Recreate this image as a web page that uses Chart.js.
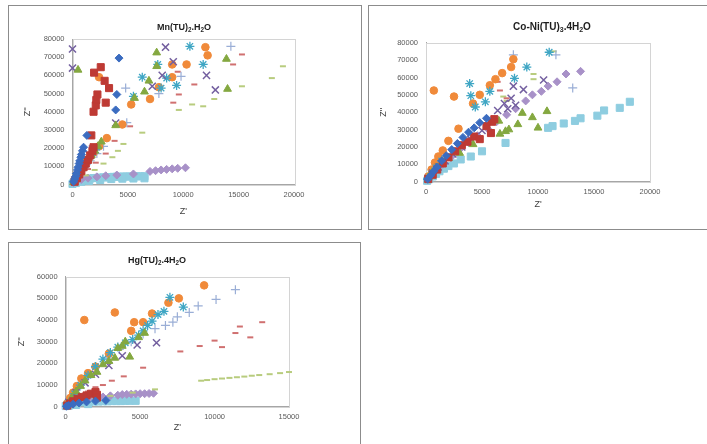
<!DOCTYPE html>
<html>
<head>
<meta charset="utf-8">
<script src="https://cdn.jsdelivr.net/npm/chart.js@4.4.0/dist/chart.umd.min.js"></script>
<style>
  body { margin: 0; background: #fff; width: 707px; height: 444px; overflow: hidden; position: relative; }
  .panel { position: absolute; box-sizing: border-box; border: 1px solid #8c8c8c; background: #fff; }
  .panel canvas { position: absolute; left: -1px; top: -1px; }
</style>
</head>
<body>
<div class="panel" style="left:8px;top:5px;width:354px;height:225px"><canvas id="mn" width="353" height="224"></canvas></div>
<div class="panel" style="left:368px;top:5px;width:350px;height:225px"><canvas id="co" width="339" height="224"></canvas></div>
<div class="panel" style="left:8px;top:242px;width:353px;height:215px"><canvas id="hg" width="352" height="202"></canvas></div>
<script>
// ---- Mn(TU)2.H2O : [Z', Z''] pairs per series ----
const mnDiamond = [[100,1500],[200,3000],[300,4500],[350,6000],[450,8000],[500,9500],[600,11500],[650,13000],[750,15000],[800,16500],[900,18500],[1000,20500],[1300,27000],[3900,41000],[4000,49500],[4200,69500]];
const mnSquare = [[200,1500],[400,3500],[600,5500],[800,7500],[1000,9500],[1200,11500],[1400,13500],[1600,16000],[1800,18500],[1900,20500],[1700,27000],[1900,40000],[2100,43500],[2150,46500],[2250,49500],[3000,45000],[1950,61500],[2550,64500],[2900,57000],[3300,53000]];
const mnTriangle = [[100,1200],[300,3000],[500,5000],[700,7000],[900,9000],[1100,11000],[1400,13500],[1700,16000],[2000,18500],[2300,21000],[2600,23500],[500,63000],[3900,32500],[5600,47500],[6500,51000],[6900,57000],[7600,65000],[7600,72500],[13900,69000],[14000,52500]];
const mnCross = [[0,74500],[0,64000],[200,2500],[400,5000],[600,7500],[900,10500],[1200,13500],[1500,16500],[1800,19500],[3900,33800],[7200,54000],[8100,60000],[9100,67500],[8400,75500],[12100,60000],[12900,52000]];
const mnStar = [[150,2000],[350,4000],[550,6000],[800,8500],[1100,11000],[1400,13500],[1700,16000],[2100,19000],[5500,48500],[6300,59000],[7700,66000],[8000,53000],[8500,58500],[9400,54500],[10600,76000],[11800,66000]];
const mnCircle = [[200,2500],[400,4500],[650,7000],[900,9500],[1200,12000],[1500,14500],[1900,17500],[2400,21000],[3100,25500],[2400,59000],[4500,33000],[5300,44000],[7000,47000],[7800,53500],[9000,59000],[9000,66000],[10300,66000],[12000,75500],[12200,71000]];
const mnPlus = [[300,2500],[700,6000],[1100,9500],[1600,13000],[2200,17000],[2800,21000],[4900,34000],[4800,53000],[7800,50000],[9800,59500],[14300,76000]];
const mnDashRed = [[300,2000],[800,5000],[1400,8500],[2100,12000],[3000,17000],[3800,24000],[5200,32000],[9100,45000],[9600,49500],[11000,55000],[9500,62000],[14500,66000],[15300,71500]];
const mnDashGreen = [[500,2000],[1200,5000],[2000,8000],[2800,11500],[3600,15000],[4100,18500],[4600,22300],[6300,28500],[9600,41000],[10800,44000],[11800,43000],[12800,47000],[15300,54000],[18000,58500],[19000,65000]];
const mnDiamondLight = [[100,1000],[400,2000],[800,2800],[1400,3500],[2200,4200],[3000,4800],[4000,5200],[5500,5800],[7000,7200],[7500,7600],[8000,8000],[8500,8300],[9000,8600],[9500,8900],[10200,9200]];
const mnSquareLight = [[0,300],[100,1000],[200,1500],[350,1900],[500,2200],[700,2500],[900,2700],[1100,2900],[1300,3100],[1600,3300],[1900,3500],[2200,3600],[2500,3800],[2800,3900],[3100,4000],[3400,4100],[3700,4200],[4000,4250],[4300,4300],[4600,4350],[4900,4400],[5200,4400],[5500,4450],[5800,4500],[6100,4500],[6500,4550],[300,800],[800,1500],[1500,2000],[2500,2500],[3500,3000],[4500,3200],[5500,3300],[6500,3400]];

// ---- Co-Ni(TU)3.4H2O ----
const coDiamond = [[150,1500],[400,3500],[700,6000],[1000,8500],[1400,12000],[1800,15000],[2300,18500],[2800,22000],[3300,25500],[3800,28500],[4300,31000],[4800,34000],[5400,36500]];
const coSquare = [[200,1500],[600,4000],[1000,7000],[1500,10500],[2000,14000],[2600,17500],[3200,21000],[3700,23000],[4300,26000],[4800,24500],[5400,32000],[5800,28000],[5900,34500],[6100,36000]];
const coTriangle = [[200,2500],[500,5000],[900,8000],[1400,11000],[2000,13500],[3000,16500],[4200,21500],[6500,35000],[6600,27500],[7100,29000],[7400,30000],[8200,33000],[8600,39500],[9500,37000],[10000,31000],[10800,40500]];
const coCross = [[200,2000],[600,5000],[1100,8500],[1700,12000],[2400,16000],[3200,20000],[4000,24500],[5000,29500],[6400,41000],[7000,45000],[7300,42000],[7600,48000],[8000,44000],[7800,55000],[8700,53000],[10500,58500]];
const coStar = [[150,1500],[500,4500],[900,8000],[1400,12000],[3900,56500],[4000,49500],[4400,43000],[5300,46000],[5700,52000],[7900,59500],[9000,66000],[11000,74500]];
const coCircle = [[200,3000],[500,7000],[800,11000],[1100,14500],[1500,18000],[2000,23500],[2900,30500],[700,52500],[2500,49000],[4200,45000],[4800,50000],[5700,55500],[6200,59000],[6800,62500],[7600,66000],[7800,70500]];
const coPlus = [[300,2500],[800,6500],[1500,11000],[2500,17000],[7800,73000],[11600,73000],[13100,54000]];
const coDashRed = [[300,3000],[900,7500],[1600,12000],[2500,17500],[6400,57500],[6600,52500],[7200,48000]];
const coDashGreen = [[400,4000],[1000,9000],[1800,14000],[6900,49000],[7200,46500],[9600,62000],[9600,59000],[11400,75000]];
const coDiamondLight = [[300,2500],[800,6000],[1500,10000],[2300,14500],[3000,18500],[3800,22500],[4600,26500],[5500,30500],[6300,34500],[7200,38500],[8000,42000],[8900,46500],[9500,50000],[10300,52000],[10900,55000],[11700,57500],[12500,62000],[13800,63500]];
const coSquareLight = [[100,500],[300,1500],[600,3000],[900,4500],[1200,6000],[1600,7500],[2000,9000],[2500,10500],[3100,12800],[4000,14500],[5000,17500],[7100,22300],[10900,31000],[11300,32000],[12300,33500],[13300,35000],[13800,36500],[15300,38000],[15900,41000],[17300,42500],[18200,46000]];

// ---- Hg(TU)2.4H2O ----
const hgDiamond = [[50,200],[200,600],[500,1200],[900,1700],[1400,2200],[2000,2600],[2700,2900]];
const hgSquare = [[100,500],[300,1500],[500,2500],[800,3500],[1100,4500],[1400,5200],[1700,6000],[2000,6800],[2100,5500],[2100,4200]];
const hgTriangle = [[150,1500],[400,4000],[700,7000],[1000,9500],[1300,12000],[1700,14500],[2100,16000],[2500,19500],[2900,21000],[3300,22500],[3500,27000],[3800,28000],[4000,30000],[4300,23000],[4900,32000],[5300,34000]];
const hgCross = [[200,2000],[700,6500],[1300,11000],[2000,15000],[2900,19000],[3800,23500],[4800,28500],[6100,29500]];
const hgStar = [[200,2000],[600,6000],[1000,10000],[1500,14500],[2000,18500],[2500,22000],[3000,25000],[3500,27500],[4000,29500],[4500,31000],[4900,33000],[5200,35000],[5500,37500],[5800,39500],[6200,42500],[6600,44000],[7000,50500],[7900,46000]];
const hgCircle = [[100,1500],[300,4000],[500,6500],[750,9500],[1050,13000],[1500,15500],[2000,18500],[2900,24500],[1250,40000],[3300,43500],[4400,35000],[4600,39000],[5200,39000],[5800,43000],[6900,48000],[7600,50000],[9300,56000]];
const hgPlus = [[200,2500],[700,7500],[1300,13000],[2000,18000],[2800,22500],[3600,26500],[4400,30000],[5200,33500],[6000,36000],[6700,37500],[7200,39000],[7500,41500],[8300,43500],[8900,46500],[10100,49500],[11400,54000]];
const hgDashRed = [[200,1000],[600,3000],[1000,5000],[1500,7000],[2000,9000],[2500,10000],[3100,12000],[3900,14000],[5200,18000],[7700,25500],[9000,28000],[10000,30500],[10500,27500],[11400,34000],[11700,37000],[12400,32000],[13200,39000]];
const hgDashGreen = [[500,1500],[1200,2800],[2000,3800],[3000,5000],[4500,6500],[6000,8000],[9100,12000],[9500,12300],[10000,12700],[10500,13000],[11000,13300],[11500,13600],[12000,13900],[12500,14300],[13000,14600],[13700,15000],[14400,15500],[15000,16000]];
const hgDiamondLight = [[200,1000],[600,2000],[1000,2800],[1500,3500],[2000,4000],[2500,4500],[3000,5000],[3500,5300],[3800,5600],[4100,5700],[4400,5800],[4700,5900],[5000,6000],[5300,6000],[5600,6100],[5900,6200]];
const hgSquareLight = [[0,300],[100,900],[250,1300],[400,1600],[600,1800],[800,2000],[1000,2100],[1300,2200],[1600,2300],[1900,2400],[2200,2400],[2500,2500],[2800,2500],[3100,2600],[3400,2600],[3700,2600],[4000,2700],[4300,2700],[4700,2700],[200,400],[700,800],[1500,1200]];

const mnTitle = [['Mn(TU)', 0], ['2', 1], ['.H', 0], ['2', 1], ['O', 0]];
const coTitle = [['Co-Ni(TU)', 0], ['3', 1], ['.4H', 0], ['2', 1], ['O', 0]];
const hgTitle = [['Hg(TU)', 0], ['2', 1], ['.4H', 0], ['2', 1], ['O', 0]];

// marker look for series 1..11 (same order in every panel)
const markers = [
  { style: 'rectRot',  color: '#3b6cc0', r: 4,   bw: 1 },
  { style: 'rect',     color: '#be3a34', r: 5,   bw: 1 },
  { style: 'triangle', color: '#84a840', r: 4.5, bw: 1 },
  { style: 'crossRot', color: '#7460a0', r: 5,   bw: 1.5 },
  { style: 'star',     color: '#3fa6c4', r: 4.5, bw: 1.3 },
  { style: 'circle',   color: '#f08a3a', r: 3.8, bw: 1 },
  { style: 'cross',    color: '#9aaed6', r: 4.5, bw: 1.2 },
  { style: 'line',     color: '#d07070', r: 3,   bw: 2 },
  { style: 'line',     color: '#b8cc7e', r: 3,   bw: 2 },
  { style: 'rectRot',  color: '#a891c8', r: 4,   bw: 1 },
  { style: 'rect',     color: '#8ecde0', r: 5,   bw: 1 }
];

const FONT = '"Liberation Sans", Arial, sans-serif';

const framePlugin = {
  id: 'frame',
  beforeDatasetsDraw(chart) {
    const { ctx, chartArea: a } = chart;
    ctx.save();
    ctx.strokeStyle = '#d4d4d4';
    ctx.lineWidth = 1;
    ctx.strokeRect(Math.round(a.left) + 0.5, Math.round(a.top) + 0.5,
      Math.round(a.right - a.left), Math.round(a.bottom - a.top));
    ctx.restore();
  },
  afterDraw(chart, args, o) {
    const ctx = chart.ctx;
    const big = 'bold ' + o.size + 'px ' + FONT;
    const small = 'bold ' + (o.size * 0.7) + 'px ' + FONT;
    ctx.save();
    let w = 0;
    o.parts.forEach(([t, sub]) => { ctx.font = sub ? small : big; w += ctx.measureText(t).width; });
    let x = o.x - w / 2;
    ctx.fillStyle = '#1e1e1e';
    ctx.textAlign = 'left';
    ctx.textBaseline = 'middle';
    o.parts.forEach(([t, sub]) => {
      ctx.font = sub ? small : big;
      ctx.fillText(t, x, sub ? o.y + o.size * 0.3 : o.y);
      x += ctx.measureText(t).width;
    });
    ctx.restore();
  }
};

function makeChart(id, series, xMax, yMax, title, box) {
  const datasets = series.map((pts, i) => {
    const m = markers[i];
    return {
      data: pts.map(([x, y]) => ({ x, y })),
      showLine: false,
      clip: false,
      pointStyle: m.style,
      pointRadius: m.r,
      pointBackgroundColor: m.color,
      pointBorderColor: m.color,
      pointBorderWidth: m.bw
    };
  });
  const tickFont = { family: FONT, size: 7.5 };
  const titleFont = { family: FONT, size: 9 };
  new Chart(document.getElementById(id), {
    type: 'scatter',
    data: { datasets },
    plugins: [framePlugin],
    options: {
      responsive: false,
      animation: false,
      devicePixelRatio: 1,
      events: [],
      layout: { padding: box.pad },
      plugins: {
        legend: { display: false },
        tooltip: { enabled: false },
        frame: title
      },
      scales: {
        x: {
          type: 'linear', min: 0, max: xMax,
          grid: { display: false, drawTicks: false },
          border: { color: '#a6a6a6' },
          ticks: { stepSize: 5000, padding: 6, color: '#595959', font: tickFont, maxRotation: 0, autoSkip: false, callback: v => v },
          title: { display: true, text: "Z'", padding: 0, color: '#404040', font: titleFont },
          afterFit: s => { s.height = box.xH; }
        },
        y: {
          type: 'linear', min: 0, max: yMax,
          grid: { display: false, drawTicks: false },
          border: { color: '#a6a6a6' },
          ticks: { stepSize: 10000, padding: 8, color: '#595959', font: tickFont, autoSkip: false, callback: v => v },
          title: { display: true, text: "Z''", padding: 0, color: '#404040', font: titleFont },
          afterFit: s => { s.width = box.yW; }
        }
      }
    }
  });
}

makeChart('mn',
  [mnDiamond, mnSquare, mnTriangle, mnCross, mnStar, mnCircle, mnPlus, mnDashRed, mnDashGreen, mnDiamondLight, mnSquareLight],
  20000, 80000,
  { parts: mnTitle, size: 9, x: 176, y: 23 },
  { pad: { left: 14.6, right: 67, top: 34, bottom: 11.6 }, yW: 49.9, xH: 32.9 });

makeChart('co',
  [coDiamond, coSquare, coTriangle, coCross, coStar, coCircle, coPlus, coDashRed, coDashGreen, coDiamondLight, coSquareLight],
  20000, 80000,
  { parts: coTitle, size: 10, x: 184, y: 22 },
  { pad: { left: 10.6, right: 57, top: 37.7, bottom: 18.6 }, yW: 47.4, xH: 28.7 });

makeChart('hg',
  [hgDiamond, hgSquare, hgTriangle, hgCross, hgStar, hgCircle, hgPlus, hgDashRed, hgDashGreen, hgDiamondLight, hgSquareLight],
  15000, 60000,
  { parts: hgTitle, size: 9, x: 149, y: 19 },
  { pad: { left: 8.3, right: 71, top: 34.7, bottom: 10.6 }, yW: 49.4, xH: 26.7 });
</script>
</body>
</html>
